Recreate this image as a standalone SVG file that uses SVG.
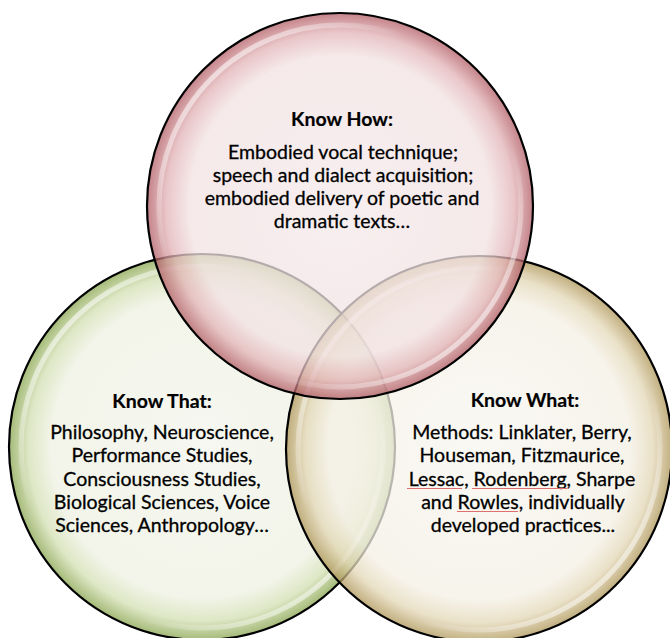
<svg xmlns="http://www.w3.org/2000/svg" width="670" height="638" viewBox="0 0 670 638">
<defs>
<radialGradient id="gRed" cx="0.5" cy="0.5" r="0.5">
<stop offset="0" stop-color="#f5e9ea"/>
<stop offset="0.78" stop-color="#f2e2e3"/>
<stop offset="0.9" stop-color="#e2b3b6"/>
<stop offset="1" stop-color="#b05a62"/>
</radialGradient>
<radialGradient id="gGreen" cx="0.5" cy="0.5" r="0.5">
<stop offset="0" stop-color="#f3f5ec"/>
<stop offset="0.78" stop-color="#eef1e2"/>
<stop offset="0.9" stop-color="#d3dfb2"/>
<stop offset="1" stop-color="#86a34b"/>
</radialGradient>
<radialGradient id="gTan" cx="0.5" cy="0.5" r="0.5">
<stop offset="0" stop-color="#f8f6f0"/>
<stop offset="0.78" stop-color="#f4f0e5"/>
<stop offset="0.9" stop-color="#e3d7b6"/>
<stop offset="1" stop-color="#ad9455"/>
</radialGradient>
<linearGradient id="gloss" x1="0" y1="0" x2="1" y2="1">
<stop offset="0" stop-color="#fff" stop-opacity="0.95"/>
<stop offset="0.35" stop-color="#fff" stop-opacity="0"/>
<stop offset="0.65" stop-color="#fff" stop-opacity="0"/>
<stop offset="1" stop-color="#fff" stop-opacity="0.9"/>
</linearGradient>
<style>
.disc{stroke:#000;stroke-width:2.2;stroke-opacity:1;fill-opacity:0.75}
.gl{fill:none;stroke:url(#gloss);stroke-width:5}
.t{font-family:Lato,"Open Sans","Liberation Sans",sans-serif;font-size:19.5px;fill:#000;stroke:#000;stroke-width:0.3;text-anchor:middle}
.h{font-weight:bold;stroke-width:0.2}
.sp{stroke:#e07070;stroke-width:1;fill:none}
</style>
</defs>
<rect width="670" height="638" fill="#ffffff"/>
<g id="know-that">
<circle class="disc" cx="202" cy="447" r="193" fill="url(#gGreen)"/>
<circle class="gl" cx="202" cy="447" r="181"/>
</g>
<g id="know-what">
<circle class="disc" cx="479" cy="449" r="193" fill="url(#gTan)"/>
<circle class="gl" cx="479" cy="449" r="181"/>
</g>
<g id="know-how">
<circle class="disc" cx="340" cy="206" r="193" fill="url(#gRed)"/>
<circle class="gl" cx="340" cy="206" r="181"/>
</g>
<g id="labels">
<text class="t h" x="342" y="126">Know How:</text>
<text class="t" x="343" y="159">Embodied vocal technique;</text>
<text class="t" x="343" y="182">speech and dialect acquisition;</text>
<text class="t" x="342" y="205">embodied delivery of poetic and</text>
<text class="t" x="342" y="228">dramatic texts…</text>
<text class="t h" x="162" y="408">Know That:</text>
<text class="t" x="162" y="439">Philosophy, Neuroscience,</text>
<text class="t" x="162" y="462">Performance Studies,</text>
<text class="t" x="162" y="486">Consciousness Studies,</text>
<text class="t" x="162" y="509">Biological Sciences, Voice</text>
<text class="t" x="162" y="532">Sciences, Anthropology…</text>
<text class="t h" x="525" y="407">Know What:</text>
<text class="t" x="522" y="439">Methods: Linklater, Berry,</text>
<text class="t" x="522" y="462">Houseman, Fitzmaurice,</text>
<text class="t" x="522" y="486">Lessac, Rodenberg, Sharpe</text>
<text class="t" x="523" y="509">and Rowles, individually</text>
<text class="t" x="523" y="532">developed practices...</text>
<path class="sp" d="M407 488.5H462M472 488.5H567M457 511.5H518"/>
</g>
</svg>
